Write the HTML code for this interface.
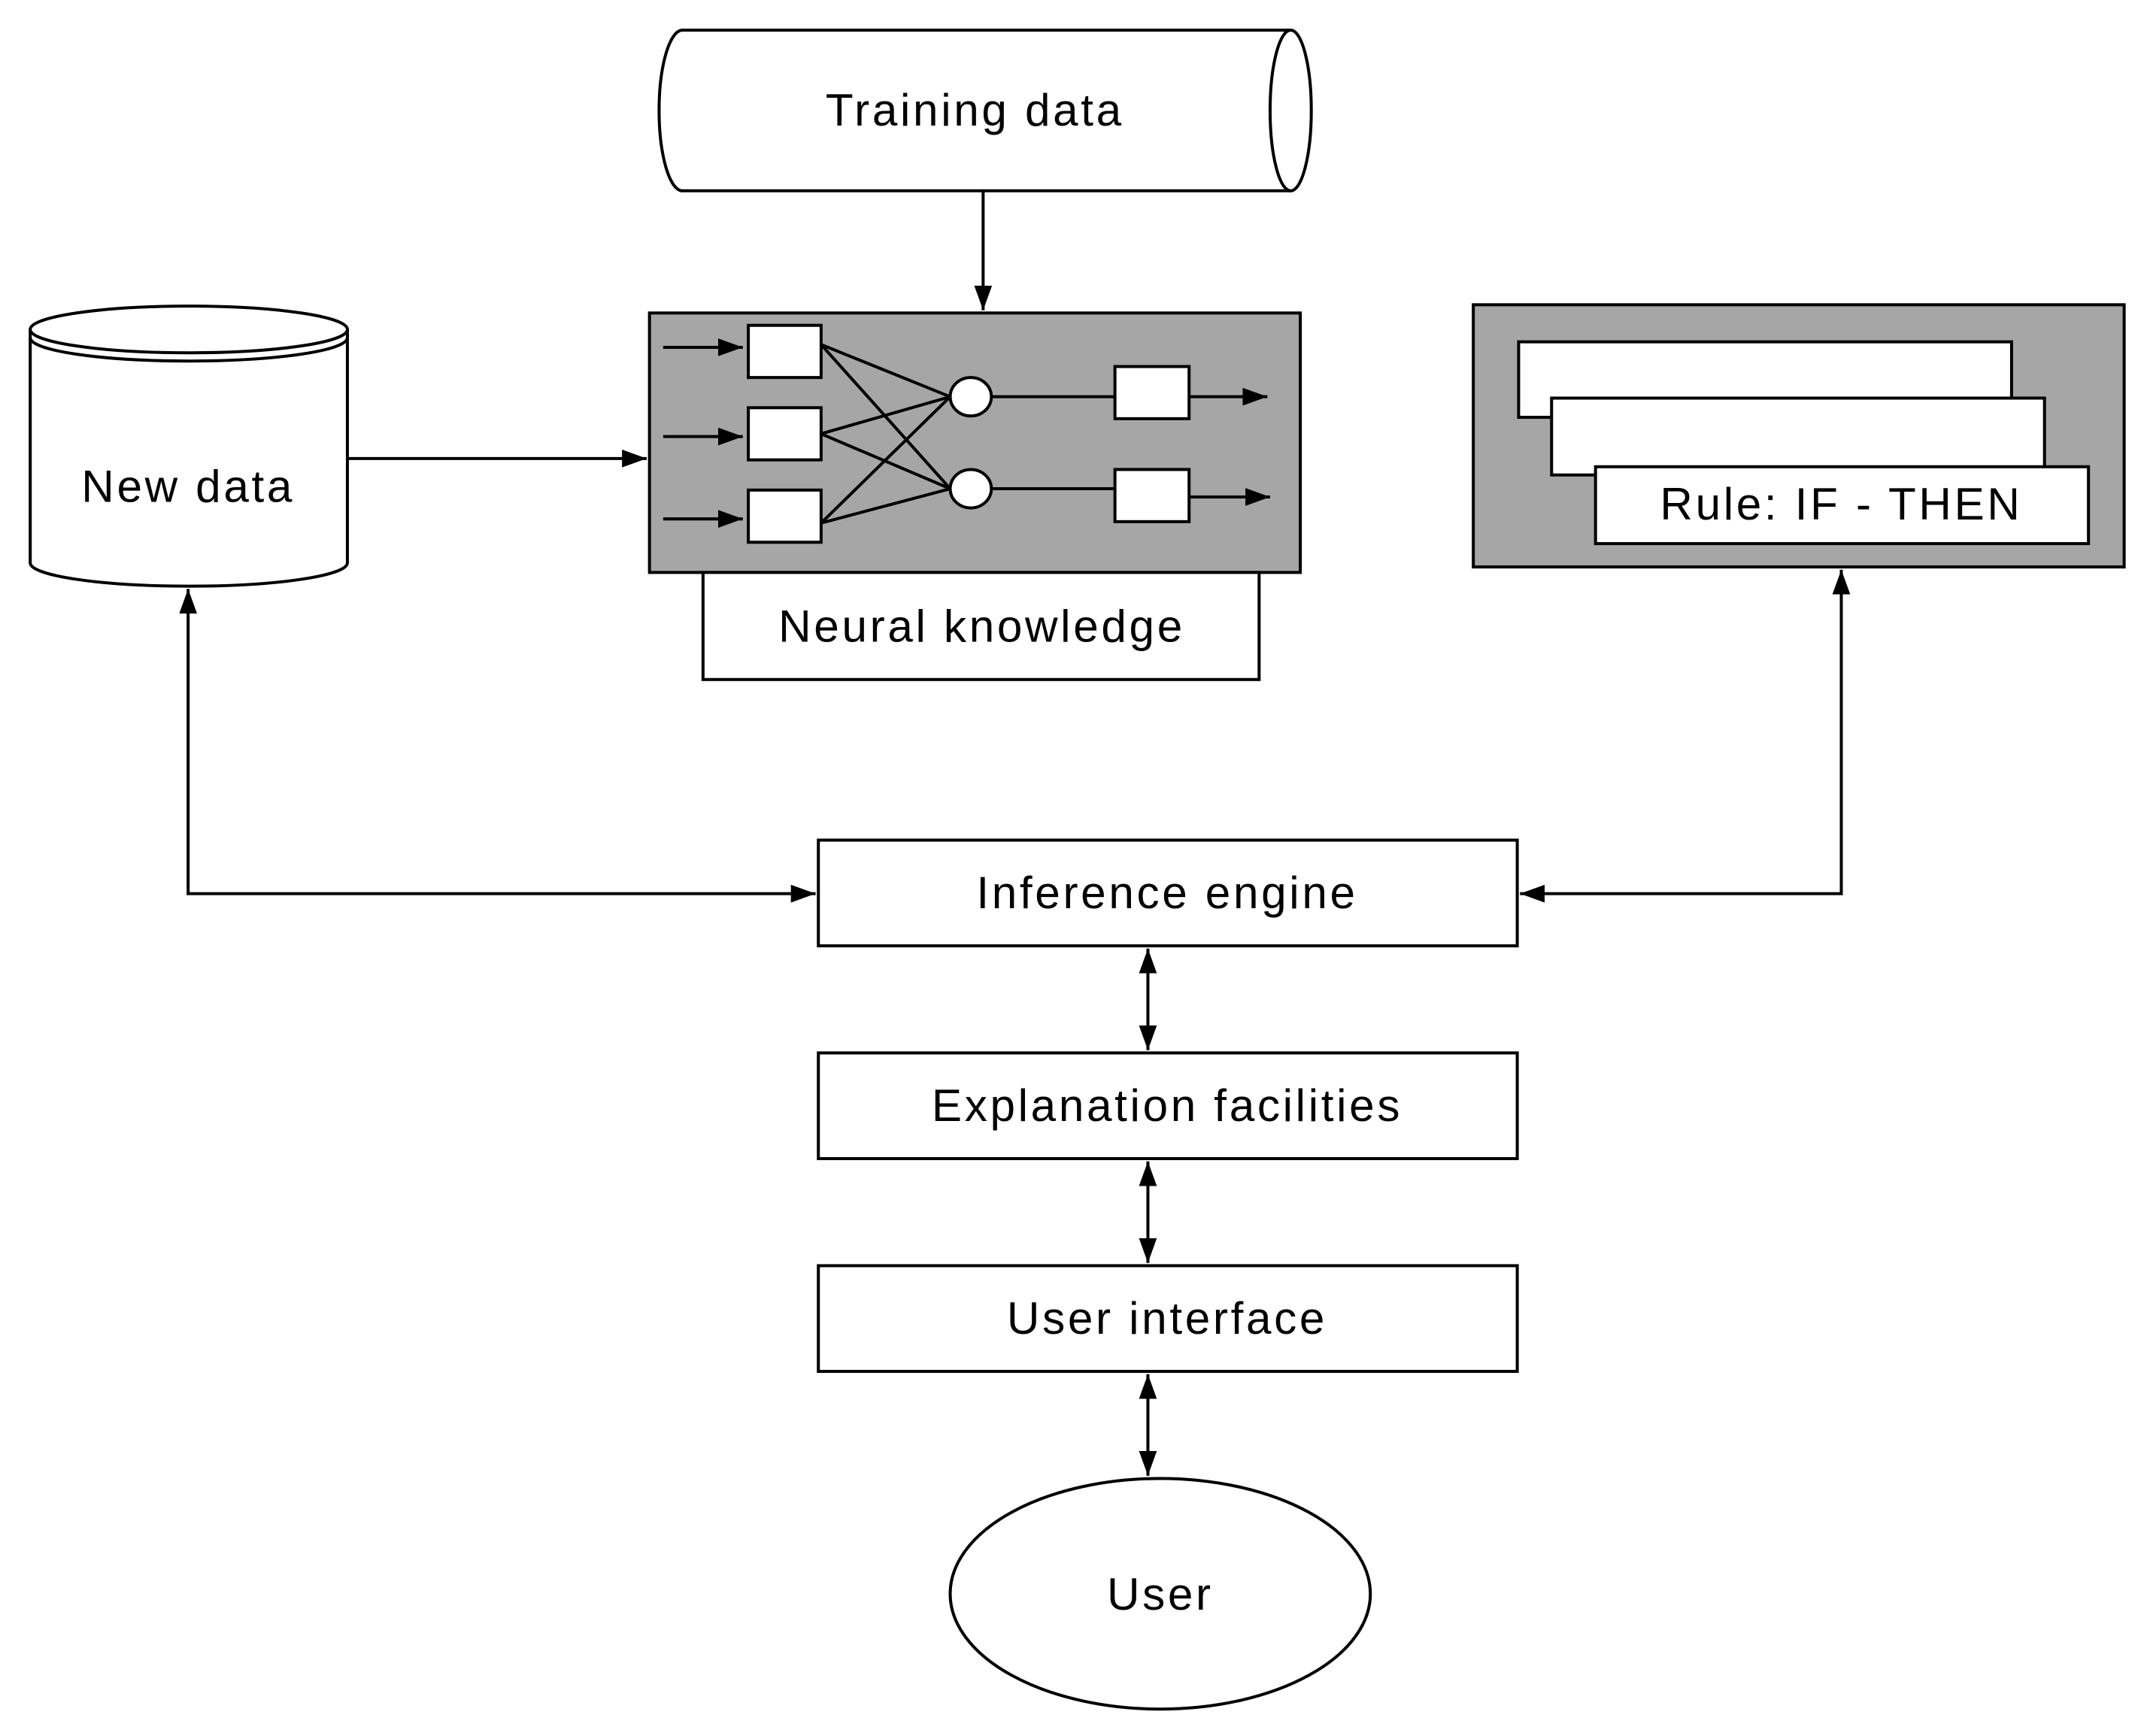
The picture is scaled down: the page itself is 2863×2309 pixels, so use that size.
<!DOCTYPE html>
<html><head><meta charset="utf-8"><style>
html,body{margin:0;padding:0;background:#fff;}
svg{display:block;}
text{font-family:"Liberation Sans",Arial,sans-serif;font-size:33px;fill:#000;text-anchor:middle;dominant-baseline:central;letter-spacing:2px;}
</style></head><body>
<svg width="2863" height="2309" viewBox="0 0 1568 1264.6" xmlns="http://www.w3.org/2000/svg">
<defs>
<marker id="b" viewBox="0 0 10 10" refX="10" refY="5" markerWidth="18" markerHeight="13" markerUnits="userSpaceOnUse" orient="auto-start-reverse" preserveAspectRatio="none">
<path d="M0,0 L10,5 L0,10 z" fill="#000"/></marker>
</defs>
<g fill="none" stroke="#000" stroke-width="2.2">
<path d="M497,22 L940,22 A15,58.5 0 0 1 940,139 L497,139 A17,58.5 0 0 1 497,22 Z" fill="#fff"/>
<path d="M940,22 A15,58.5 0 0 0 940,139"/>
<line x1="716" y1="139" x2="716" y2="226" marker-end="url(#b)"/>
<path d="M22,240 L22,410 A115.5,17 0 0 0 253,410 L253,240" fill="#fff"/>
<ellipse cx="137.5" cy="240" rx="115.5" ry="17" fill="#fff"/>
<path d="M22,246 A115.5,17 0 0 0 253,246"/>
<line x1="253" y1="334" x2="471" y2="334" marker-end="url(#b)"/>
<rect x="473" y="228" width="474" height="189" fill="#a6a6a6"/>
<rect x="512" y="417" width="405" height="78" fill="#fff"/>
<rect x="545" y="237" width="53" height="38" fill="#fff"/>
<rect x="545" y="297" width="53" height="38" fill="#fff"/>
<rect x="545" y="357" width="53" height="38" fill="#fff"/>
<line x1="483" y1="253" x2="541" y2="253" marker-end="url(#b)"/>
<line x1="483" y1="318" x2="541" y2="318" marker-end="url(#b)"/>
<line x1="483" y1="378" x2="541" y2="378" marker-end="url(#b)"/>
<line x1="598" y1="251" x2="692" y2="289"/>
<line x1="598" y1="251" x2="692" y2="356"/>
<line x1="598" y1="316" x2="692" y2="289"/>
<line x1="598" y1="316" x2="692" y2="356"/>
<line x1="598" y1="381" x2="692" y2="289"/>
<line x1="598" y1="381" x2="692" y2="356"/>
<ellipse cx="707" cy="289" rx="15" ry="14" fill="#fff"/>
<ellipse cx="707" cy="356" rx="15" ry="14" fill="#fff"/>
<line x1="722" y1="289" x2="812" y2="289"/>
<line x1="722" y1="356" x2="812" y2="356"/>
<rect x="812" y="267" width="54" height="38" fill="#fff"/>
<rect x="812" y="342" width="54" height="38" fill="#fff"/>
<line x1="866" y1="289" x2="923" y2="289" marker-end="url(#b)"/>
<line x1="866" y1="362" x2="925" y2="362" marker-end="url(#b)"/>
<rect x="1073" y="222" width="474" height="191" fill="#a6a6a6"/>
<rect x="1106" y="249" width="359" height="55" fill="#fff"/>
<rect x="1130" y="290" width="359" height="56" fill="#fff"/>
<rect x="1162" y="340" width="359" height="56" fill="#fff"/>
<rect x="596" y="612" width="509" height="77" fill="#fff"/>
<rect x="596" y="767" width="509" height="77" fill="#fff"/>
<rect x="596" y="922" width="509" height="77" fill="#fff"/>
<ellipse cx="845" cy="1161" rx="153" ry="84" fill="#fff"/>
<polyline points="137,429 137,651 594,651" marker-start="url(#b)" marker-end="url(#b)"/>
<polyline points="1341,415 1341,651 1107,651" marker-start="url(#b)" marker-end="url(#b)"/>
<line x1="836" y1="691" x2="836" y2="765" marker-start="url(#b)" marker-end="url(#b)"/>
<line x1="836" y1="846" x2="836" y2="920" marker-start="url(#b)" marker-end="url(#b)"/>
<line x1="836" y1="1001" x2="836" y2="1075" marker-start="url(#b)" marker-end="url(#b)"/>
</g>
<text x="710" y="80">Training data</text>
<text x="137" y="354">New data</text>
<text x="715" y="456">Neural knowledge</text>
<text x="1341" y="367">Rule: IF - THEN</text>
<text x="850" y="650">Inference engine</text>
<text x="850" y="805">Explanation facilities</text>
<text x="850" y="960">User interface</text>
<text x="845" y="1161">User</text>
</svg>
</body></html>
